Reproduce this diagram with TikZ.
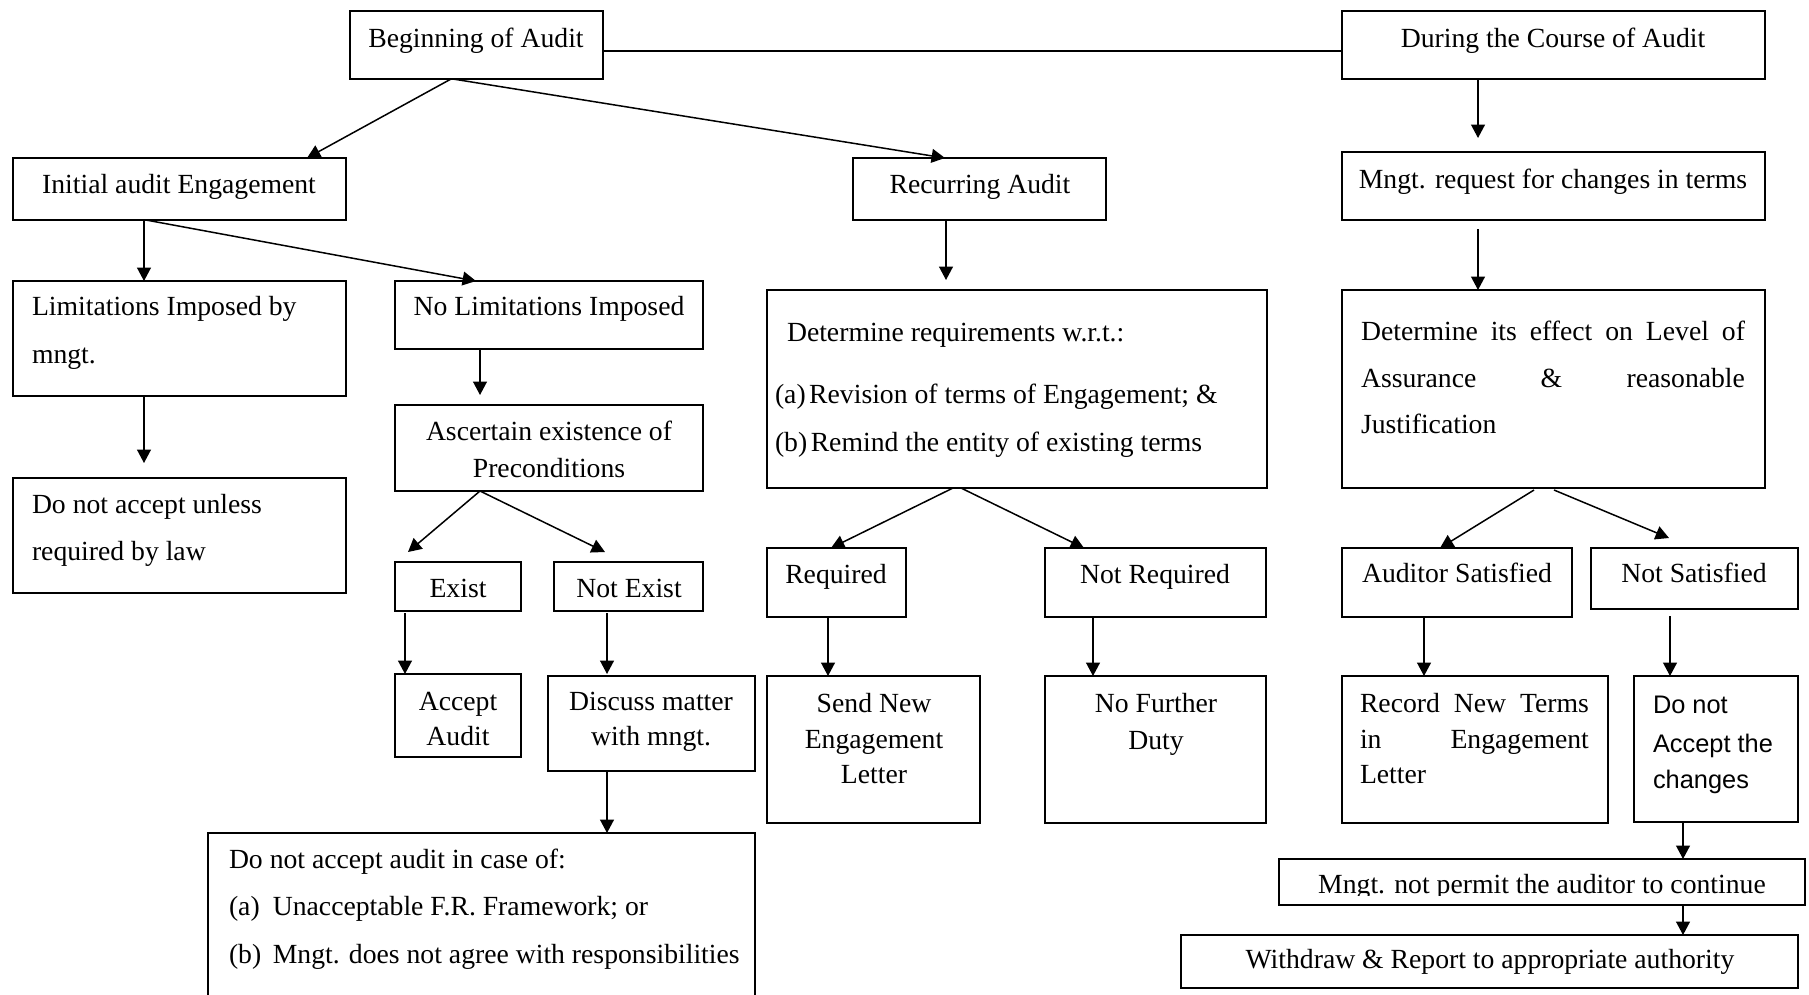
\documentclass[tikz,border=0pt]{standalone}
\usepackage{fontspec}
\setmainfont{Liberation Serif}
\newfontfamily\sansface{Liberation Sans}
\usetikzlibrary{arrows.meta,calc}

% rectangle node spanning (x1,y1)-(x2,y2), y measured downwards
\newcommand\mkbox[5]{%
  \node[box,minimum width={(#4-#2)*0.4334pt},minimum height={(#5-#3)*0.4334pt}]
    (#1) at ({(#2+#4)/2},{(#3+#5)/2}) {};}

\begin{document}
\begin{tikzpicture}[x=0.4334pt,y=-0.4334pt,
  box/.style={draw,line width=0.75pt,inner sep=0pt,outer sep=0pt},
  txt/.style={inner sep=0pt,outer sep=0pt,anchor=base,font=\fontsize{12}{14}\selectfont},
  ltxt/.style={txt,anchor=base west},
  stxt/.style={inner sep=0pt,outer sep=0pt,anchor=base west,font=\sansface\fontsize{11}{13}\selectfont},
  flow/.style={line width=0.65pt,-{Triangle[length=5.8pt,width=6pt]}},
  link/.style={line width=0.75pt}]

\clip (0,0) rectangle (1809,994);

% ---------- boxes ----------
\mkbox{beg}{350}{11}{603}{79}
\mkbox{dur}{1342}{11}{1765}{79}
\mkbox{ini}{13}{158}{346}{220}
\mkbox{rec}{853}{158}{1106}{220}
\mkbox{mng}{1342}{152}{1765}{220}
\mkbox{lim}{13}{281}{346}{396}
\mkbox{dna}{13}{478}{346}{593}
\mkbox{nol}{395}{281}{703}{349}
\mkbox{asc}{395}{405}{703}{491}
\mkbox{exi}{395}{562}{521}{611}
\mkbox{nex}{554}{562}{703}{611}
\mkbox{acc}{395}{674}{521}{757}
\mkbox{dis}{548}{676}{755}{771}
\mkbox{dnaa}{208}{833}{755}{1010}
\mkbox{req}{767}{290}{1267}{488}
\mkbox{eff}{1342}{290}{1765}{488}
\mkbox{rq}{767}{548}{906}{617}
\mkbox{nrq}{1045}{548}{1266}{617}
\mkbox{aus}{1342}{548}{1572}{617}
\mkbox{nsa}{1591}{548}{1798}{609}
\mkbox{snd}{767}{676}{980}{823}
\mkbox{nfd}{1045}{676}{1266}{823}
\mkbox{rnt}{1342}{676}{1608}{823}
\mkbox{dnc}{1634}{676}{1798}{822}
\mkbox{mnp}{1279}{859}{1805}{905}
\mkbox{wdr}{1181}{935}{1798}{988}

% ---------- texts ----------
\node[txt] (tbeg) at (476,47) {Beginning of Audit};
\node[txt] (tdur) at (1553,47) {During the Course of Audit};
\node[txt] (tini) at (179,193) {Initial audit Engagement};
\node[txt] (trec) at (980,193) {Recurring Audit};
\node[txt] (tmng) at (1553,188) {Mngt. request for changes in terms};

\node[ltxt] (tlim1) at (32,315) {Limitations Imposed by};
\node[ltxt] (tlim2) at (32,363) {mngt.};
\node[ltxt] (tdna1) at (32,513) {Do not accept unless};
\node[ltxt] (tdna2) at (32,560) {required by law};

\node[txt] (tnol) at (549,315) {No Limitations Imposed};
\node[txt] (tasc1) at (549,440) {Ascertain existence of};
\node[txt] (tasc2) at (549,477) {Preconditions};
\node[txt] (texi) at (458,597) {Exist};
\node[txt] (tnex) at (629,597) {Not Exist};
\node[txt] (tacc1) at (458,710) {Accept};
\node[txt] (tacc2) at (458,745) {Audit};
\node[txt] (tdis1) at (651,710) {Discuss matter};
\node[txt] (tdis2) at (651,745) {with mngt.};

\node[ltxt] (tdnaa1) at (229,868) {Do not accept audit in case of:};
\node[ltxt] (tdnaa2) at (229,915) {\makebox[19pt][l]{(a)}Unacceptable F.R. Framework; or};
\node[ltxt] (tdnaa3) at (229,963) {\makebox[19pt][l]{(b)}Mngt. does not agree with responsibilities};

\node[ltxt] (treq1) at (787,341) {Determine requirements w.r.t.:};
\node[ltxt] (treq2) at (775,403) {(a)\hspace{1.5pt}Revision of terms of Engagement; \&};
\node[ltxt] (treq3) at (775,451) {(b)\hspace{1.5pt}Remind the entity of existing terms};

\node[ltxt] (teff1) at (1361,340) {\makebox[166.4pt][s]{Determine its effect on Level of}};
\node[ltxt] (teff2) at (1361,387) {\makebox[166.4pt][s]{Assurance \& reasonable}};
\node[ltxt] (teff3) at (1361,433) {Justification};

\node[txt] (trq) at (836,583) {Required};
\node[txt] (tnrq) at (1155,583) {Not Required};
\node[txt] (taus) at (1457,582) {Auditor Satisfied};
\node[txt] (tnsa) at (1694,582) {Not Satisfied};

\node[txt] (tsnd1) at (874,712) {Send New};
\node[txt] (tsnd2) at (874,748) {Engagement};
\node[txt] (tsnd3) at (874,783) {Letter};
\node[txt] (tnfd1) at (1156,712) {No Further};
\node[txt] (tnfd2) at (1156,749) {Duty};
\node[ltxt] (trnt1) at (1360,712) {\makebox[99.2pt][s]{Record New Terms}};
\node[ltxt] (trnt2) at (1360,748) {\makebox[99.2pt][s]{in Engagement}};
\node[ltxt] (trnt3) at (1360,783) {Letter};
\node[stxt] (tdnc1) at (1653,713) {Do not};
\node[stxt] (tdnc2) at (1653,752) {Accept the};
\node[stxt] (tdnc3) at (1653,788) {changes};

\begin{scope}
  \clip (1279,859) rectangle (1805,895);
  \node[txt] (tmnp) at (1542,893) {Mngt. not permit the auditor to continue};
\end{scope}
\node[txt] (twdr) at (1490,968) {Withdraw \& Report to appropriate authority};

% ---------- connectors ----------
\draw[link] ($(beg.east)+(0,6)$) -- ($(dur.west)+(0,6)$);
\draw[flow] ($(beg.south west)+(101,0)$) -- ($(ini.north west)+(294,0)$);
\draw[flow] ($(beg.south west)+(103,0)$) -- ($(rec.north west)+(92,0)$);
\draw[flow] ($(dur.south west)+(136,0)$) -- ($(mng.north west)+(136,-14)$);
\draw[flow] ($(ini.south west)+(131,0)$) -- ($(lim.north west)+(131,0)$);
\draw[flow] ($(ini.south west)+(133,0)$) -- ($(nol.north west)+(81,0)$);
\draw[flow] ($(rec.south west)+(93,0)$) -- ($(req.north west)+(179,-10)$);
\draw[flow] ($(mng.south west)+(136,9)$) -- ($(eff.north west)+(136,0)$);
\draw[flow] ($(lim.south west)+(131,0)$) -- ($(dna.north west)+(131,-15)$);
\draw[flow] ($(nol.south west)+(85,0)$) -- ($(asc.north west)+(85,-10)$);
\draw[flow] ($(asc.south west)+(85,0)$) -- ($(exi.north west)+(13,-10)$);
\draw[flow] ($(asc.south west)+(85,0)$) -- ($(nex.north west)+(51,-10)$);
\draw[flow] ($(exi.south west)+(10,2)$) -- ($(acc.north west)+(10,0)$);
\draw[flow] ($(nex.south west)+(53,2)$) -- ($(dis.north west)+(59,-2)$);
\draw[flow] ($(dis.south west)+(59,0)$) -- ($(dnaa.north west)+(399,0)$);
\draw[flow] ($(req.south west)+(186,0)$) -- ($(rq.north west)+(64,0)$);
\draw[flow] ($(req.south west)+(194,0)$) -- ($(nrq.north west)+(39,0)$);
\draw[flow] ($(eff.south west)+(192,2)$) -- ($(aus.north west)+(98,0)$);
\draw[flow] ($(eff.south west)+(212,2)$) -- ($(nsa.north west)+(78,-10)$);
\draw[flow] ($(rq.south west)+(61,0)$) -- ($(snd.north west)+(61,0)$);
\draw[flow] ($(nrq.south west)+(48,0)$) -- ($(nfd.north west)+(48,0)$);
\draw[flow] ($(aus.south west)+(82,0)$) -- ($(rnt.north west)+(82,0)$);
\draw[flow] ($(nsa.south west)+(79,7)$) -- ($(dnc.north west)+(36,0)$);
\draw[flow] ($(dnc.south west)+(49,0)$) -- ($(mnp.north west)+(404,0)$);
\draw[flow] ($(mnp.south west)+(404,0)$) -- ($(wdr.north west)+(502,0)$);

\end{tikzpicture}
\end{document}
